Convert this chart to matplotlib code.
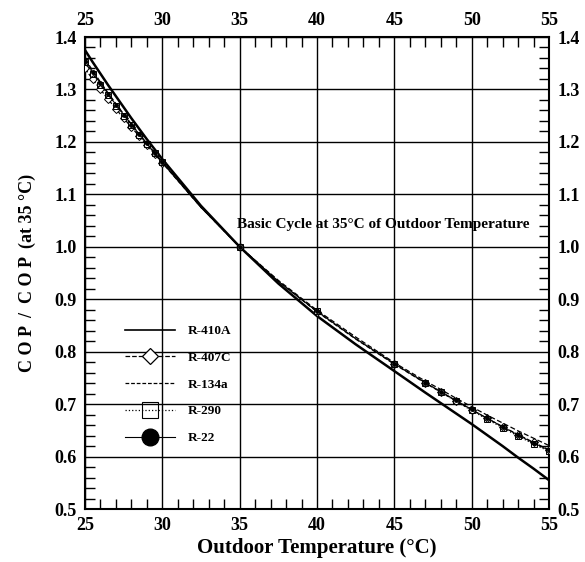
import matplotlib
matplotlib.use("Agg")
import matplotlib.pyplot as plt
from matplotlib.lines import Line2D
from matplotlib.ticker import MultipleLocator
import numpy as np

plt.rcParams['font.family'] = ['Liberation Serif', 'DejaVu Serif']
plt.rcParams['font.weight'] = 'bold'

# outdoor temperature grid (deg C)
temp = [25, 25.5, 26, 26.5, 27, 27.5, 28, 28.5, 29, 29.5, 30, 32.5, 35, 37.5, 40,
        42.5, 45, 47, 48, 49, 50, 51, 52, 53, 54, 55]
# points that carry a marker
marked = [i for i, t in enumerate(temp) if t not in (32.5, 37.5, 42.5)]

r410a = [1.375, 1.352, 1.330, 1.308, 1.287, 1.266, 1.245, 1.225, 1.205, 1.186, 1.167,
         1.078, 1.000, 0.930, 0.868, 0.814, 0.763, 0.722, 0.702, 0.682, 0.662, 0.641,
         0.620, 0.598, 0.577, 0.555]
r407c = [1.340, 1.319, 1.300, 1.281, 1.263, 1.245, 1.228, 1.211, 1.194, 1.177, 1.160,
         1.075, 1.000, 0.934, 0.876, 0.824, 0.776, 0.740, 0.723, 0.706, 0.689, 0.673,
         0.657, 0.642, 0.627, 0.613]
r134a = [1.358, 1.336, 1.314, 1.293, 1.273, 1.253, 1.234, 1.215, 1.197, 1.179, 1.162,
         1.076, 1.000, 0.936, 0.879, 0.828, 0.779, 0.744, 0.728, 0.711, 0.695, 0.679,
         0.664, 0.649, 0.635, 0.621]
r290 = [1.352, 1.330, 1.309, 1.289, 1.269, 1.250, 1.232, 1.214, 1.196, 1.178, 1.161,
        1.075, 1.000, 0.934, 0.877, 0.825, 0.777, 0.741, 0.723, 0.705, 0.688, 0.671,
        0.655, 0.639, 0.624, 0.610]
r22 = [1.355, 1.333, 1.312, 1.291, 1.271, 1.252, 1.233, 1.215, 1.197, 1.179, 1.161,
       1.075, 1.000, 0.934, 0.877, 0.825, 0.777, 0.741, 0.724, 0.707, 0.690, 0.673,
       0.657, 0.641, 0.626, 0.612]

fig = plt.figure(figsize=(5.85, 5.62), dpi=100)
ax = fig.add_axes([85 / 585, 53 / 562, 464 / 585, 472 / 562])

ax.plot(temp, r410a, color='black', lw=1.8, ls='-', zorder=5)
ax.plot(temp, r407c, color='black', lw=0.9, ls='--', marker='D', ms=4.5, mfc='white',
        mec='black', mew=0.7, markevery=marked, zorder=5)
ax.plot(temp, r134a, color='black', lw=0.9, ls=(0, (4, 2)), zorder=5)
ax.plot(temp, r290, color='black', lw=0.9, ls=':', marker='s', ms=5, mfc='none',
        mec='black', mew=0.7, markevery=marked, zorder=5)
ax.plot(temp, r22, color='black', lw=0.7, ls='-', marker='o', ms=2.5, mfc='black',
        mec='black', markevery=marked, zorder=5)

handles = [
    Line2D([], [], color='black', lw=1.2, ls='-'),
    Line2D([], [], color='black', lw=0.9, ls='--', marker='D', ms=8.5, mfc='white', mec='black', mew=0.9),
    Line2D([], [], color='black', lw=0.9, ls=(0, (3, 1.5))),
    Line2D([], [], color='black', lw=0.9, ls=':', marker='s', ms=12, mfc='none', mec='black', mew=0.8),
    Line2D([], [], color='black', lw=0.8, ls='-', marker='o', ms=12, mfc='black', mec='black'),
]
labels = ['R-410A', 'R-407C', 'R-134a', 'R-290', 'R-22']
ax.legend(handles, labels, loc='upper left', bbox_to_anchor=(0.06, 0.415),
          frameon=False, handlelength=3.8, handletextpad=1.0, labelspacing=1.1,
          prop={'family': 'Liberation Serif', 'weight': 'bold', 'size': 9.5})

ax.text(34.85, 1.043, 'Basic Cycle at 35°C of Outdoor Temperature', fontsize=11,
        fontweight='bold', va='center', ha='left', zorder=6)

ax.set_xlim(25, 55)
ax.set_ylim(0.5, 1.4)
ax.xaxis.set_major_locator(MultipleLocator(5))
ax.xaxis.set_minor_locator(MultipleLocator(1))
ax.yaxis.set_major_locator(MultipleLocator(0.1))
ax.yaxis.set_minor_locator(MultipleLocator(0.02))
ax.yaxis.set_major_formatter(matplotlib.ticker.FormatStrFormatter('%.1f'))
ax.grid(True, which='major', color='black', lw=1.0)
ax.tick_params(which='both', direction='in', top=True, right=True,
               labeltop=True, labelright=True, labelsize=13, width=1.0)
ax.tick_params(which='major', length=0, pad=6)
ax.tick_params(which='minor', length=7)
for lab in ax.get_xticklabels() + ax.get_yticklabels():
    lab.set_fontweight('bold')
for s in ax.spines.values():
    s.set_linewidth(1.5)

ax.set_xlabel('Outdoor Temperature (°C)', fontsize=15, fontweight='bold', labelpad=3)
ax.set_ylabel('C O P  /  C O P  (at 35 °C)', fontsize=13, fontweight='bold', labelpad=13)

fig.savefig('out.png', dpi=100)
